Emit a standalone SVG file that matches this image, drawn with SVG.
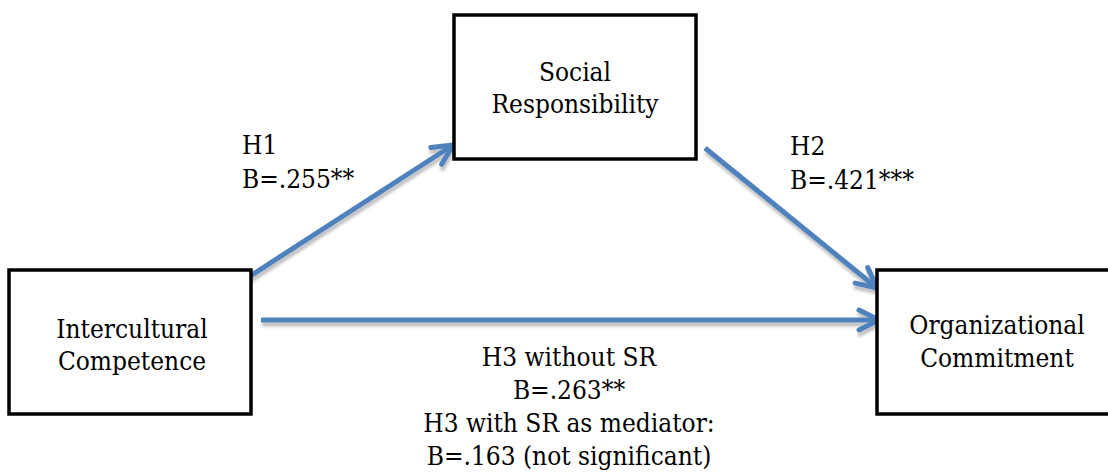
<svg xmlns="http://www.w3.org/2000/svg" width="1108" height="473" viewBox="0 0 1108 473">
<style>
.box{fill:#fff;stroke:#000;stroke-width:3.5}
text{font-family:'DejaVu Serif Condensed','DejaVu Serif','Liberation Serif',serif;font-stretch:condensed;font-size:26px;fill:#000}
.c{text-anchor:middle}
.conn{stroke:#4F81BD;stroke-width:5;fill:none}
</style>
<defs>
<filter id="sh" x="-10%" y="-30%" width="120%" height="160%">
<feGaussianBlur in="SourceAlpha" stdDeviation="1.5" result="b"/>
<feOffset in="b" dx="1" dy="4" result="o"/>
<feFlood flood-color="#000" flood-opacity="0.25"/>
<feComposite in2="o" operator="in" result="s"/>
<feMerge><feMergeNode in="s"/><feMergeNode in="SourceGraphic"/></feMerge>
</filter>
<marker id="ah" markerUnits="userSpaceOnUse" markerWidth="40" markerHeight="40" viewBox="-30 -20 40 40" refX="0" refY="0" orient="auto" overflow="visible">
<path d="M-20,-10 L0,0 L-20,10" fill="none" stroke="#4F81BD" stroke-width="5" stroke-linecap="round" stroke-linejoin="miter"/>
</marker>
</defs>
<rect width="1108" height="473" fill="#fff"/>
<g id="connectors" filter="url(#sh)">
<line class="conn" x1="244" y1="280" x2="453" y2="145" marker-end="url(#ah)"/>
<line class="conn" x1="705" y1="148" x2="877" y2="288" marker-end="url(#ah)"/>
<line class="conn" x1="261" y1="320" x2="879" y2="320" marker-end="url(#ah)"/>
</g>
<g id="intercultural">
<rect class="box" x="9" y="270" width="242" height="144"/>
<text class="c" x="132" y="338">Intercultural</text>
<text class="c" x="132" y="370">Competence</text>
</g>
<g id="social">
<rect class="box" x="454" y="15" width="242" height="144"/>
<text class="c" x="575" y="81">Social</text>
<text class="c" x="575" y="113">Responsibility</text>
</g>
<g id="organizational">
<rect class="box" x="877" y="270" width="245" height="144"/>
<text class="c" x="997" y="334">Organizational</text>
<text class="c" x="997" y="367">Commitment</text>
</g>
<g id="labels">
<text x="242" y="154">H1</text>
<text x="242" y="188">B=.255**</text>
<text x="790" y="155">H2</text>
<text x="790" y="189">B=.421***</text>
<text class="c" x="569" y="366">H3 without SR</text>
<text class="c" x="569" y="399">B=.263**</text>
<text class="c" x="569" y="432">H3 with SR as mediator:</text>
<text class="c" x="569" y="465">B=.163 (not significant)</text>
</g>
</svg>
